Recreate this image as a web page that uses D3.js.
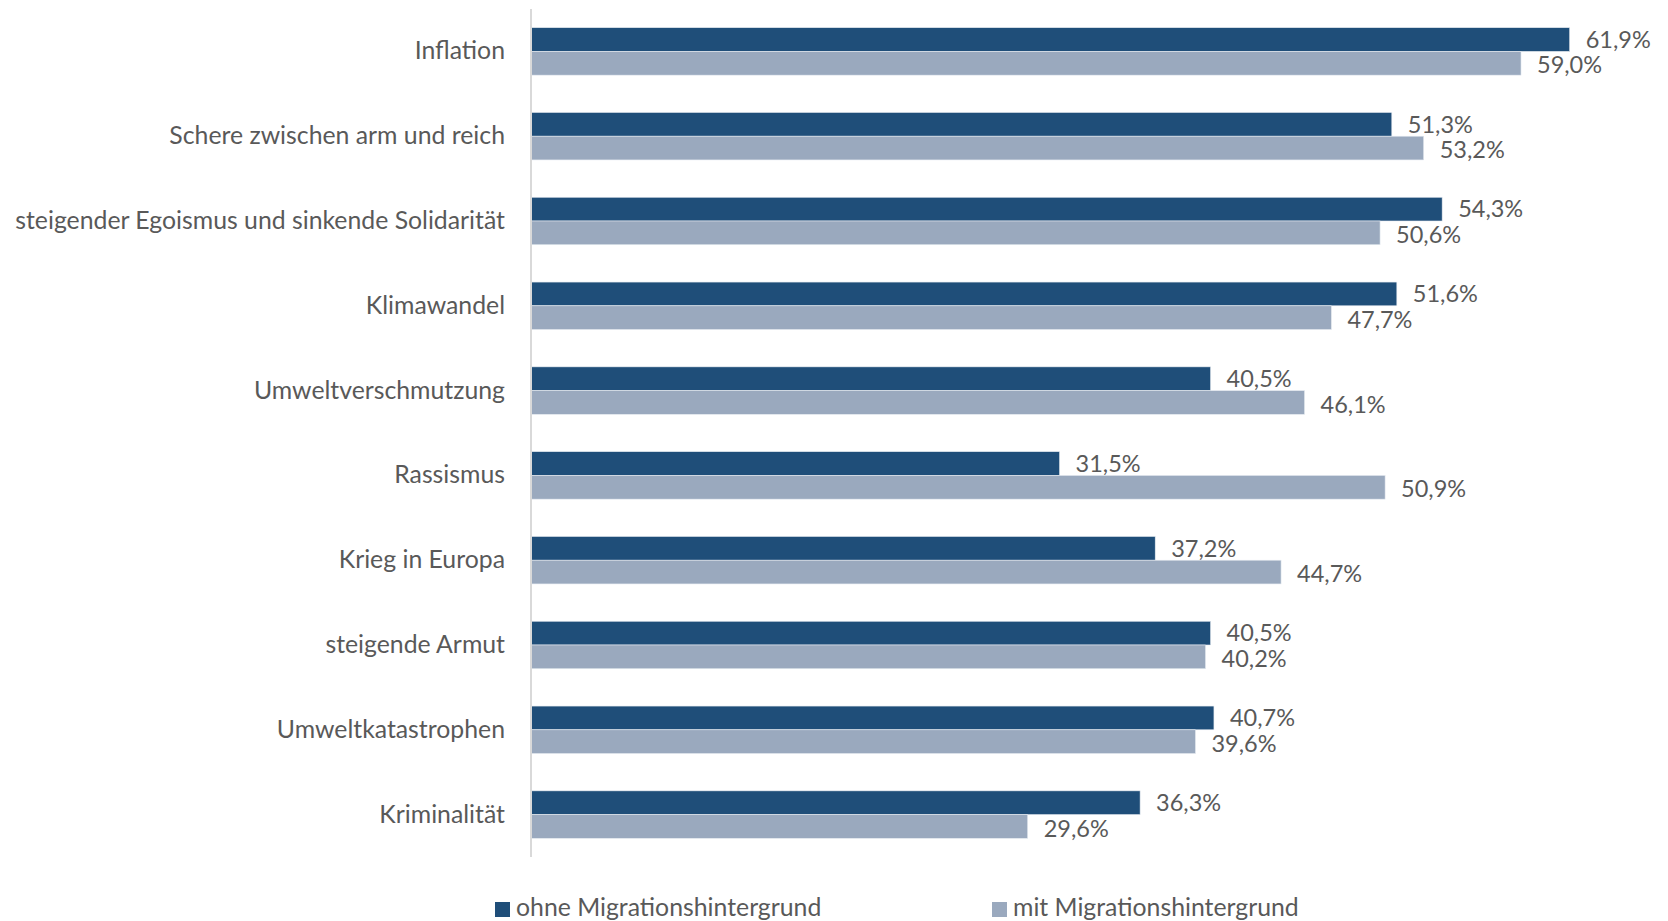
<!DOCTYPE html>
<html>
<head>
<meta charset="utf-8">
<script src="https://cdn.jsdelivr.net/npm/d3@7"></script>
<style>
  body { margin: 0; background: #fff; }
  text { font-family: Lato, "Open Sans", sans-serif; fill: #595959; }
</style>
</head>
<body>
<div id="chart"></div>
<script>
// categories top to bottom
const categories = [
  "Inflation",
  "Schere zwischen arm und reich",
  "steigender Egoismus und sinkende Solidarität",
  "Klimawandel",
  "Umweltverschmutzung",
  "Rassismus",
  "Krieg in Europa",
  "steigende Armut",
  "Umweltkatastrophen",
  "Kriminalität"
];
const ohne = [61.9, 51.3, 54.3, 51.6, 40.5, 31.5, 37.2, 40.5, 40.7, 36.3];
const mit  = [59.0, 53.2, 50.6, 47.7, 46.1, 50.9, 44.7, 40.2, 39.6, 29.6];
const seriesNames = ["ohne Migrationshintergrund", "mit Migrationshintergrund"];
const seriesColors = ["#1f4e79", "#9aa9be"];

const W = 1668, H = 921;
const axisX = 531;

const svg = d3.select("#chart").append("svg")
    .attr("width", W)
    .attr("height", H);

const x = d3.scaleLinear()
    .domain([0, 62])
    .range([axisX, axisX + 62 * 16.78]);

const y = d3.scaleBand()
    .domain(categories)
    .range([9, 857])
    .paddingInner(0.44)
    .paddingOuter(0.22);

const ySub = d3.scaleBand()
    .domain([0, 1])
    .range([0, y.bandwidth()]);

const fmt = v => d3.format(".1f")(v).replace(".", ",") + "%";

// bars
const groups = svg.selectAll("g.cat")
    .data(categories)
    .enter().append("g")
    .attr("class", "cat")
    .attr("transform", d => "translate(0," + y(d) + ")");

groups.each(function(cat, i) {
    const g = d3.select(this);
    [ohne[i], mit[i]].forEach((v, s) => {
        g.append("rect")
            .attr("x", x(0))
            .attr("y", ySub(s))
            .attr("width", x(v) - x(0))
            .attr("height", ySub.bandwidth())
            .attr("fill", seriesColors[s])
            .attr("stroke", "#e6ebf1")
            .attr("stroke-width", 0.6);
        g.append("text")
            .attr("x", x(v) + 16)
            .attr("y", ySub(s) + ySub.bandwidth() / 2 + (s == 0 ? 0 : 2))
            .attr("dy", "0.35em")
            .attr("font-size", "23.5px")
            .text(fmt(v));
    });
});

// category axis
const yAxis = d3.axisLeft(y).tickSize(0).tickPadding(26);
const ax = svg.append("g")
    .attr("transform", "translate(" + axisX + ",0)")
    .call(yAxis);
ax.select(".domain").attr("stroke", "#d9d9d9").attr("stroke-width", 2)
    .attr("d", "M0,9V857");
ax.selectAll(".tick text")
    .attr("font-size", "24.8px")
    .attr("fill", "#595959")
    .style("font-family", "Lato, 'Open Sans', sans-serif");

// legend
const legendX = [495, 992];
const legend = svg.append("g");
seriesNames.forEach((name, s) => {
    legend.append("rect")
        .attr("x", legendX[s])
        .attr("y", 902)
        .attr("width", 15)
        .attr("height", 15)
        .attr("fill", seriesColors[s]);
    legend.append("text")
        .attr("x", legendX[s] + 21)
        .attr("y", 907)
        .attr("dy", "0.35em")
        .attr("font-size", "24.8px")
        .text(name);
});
</script>
</body>
</html>
